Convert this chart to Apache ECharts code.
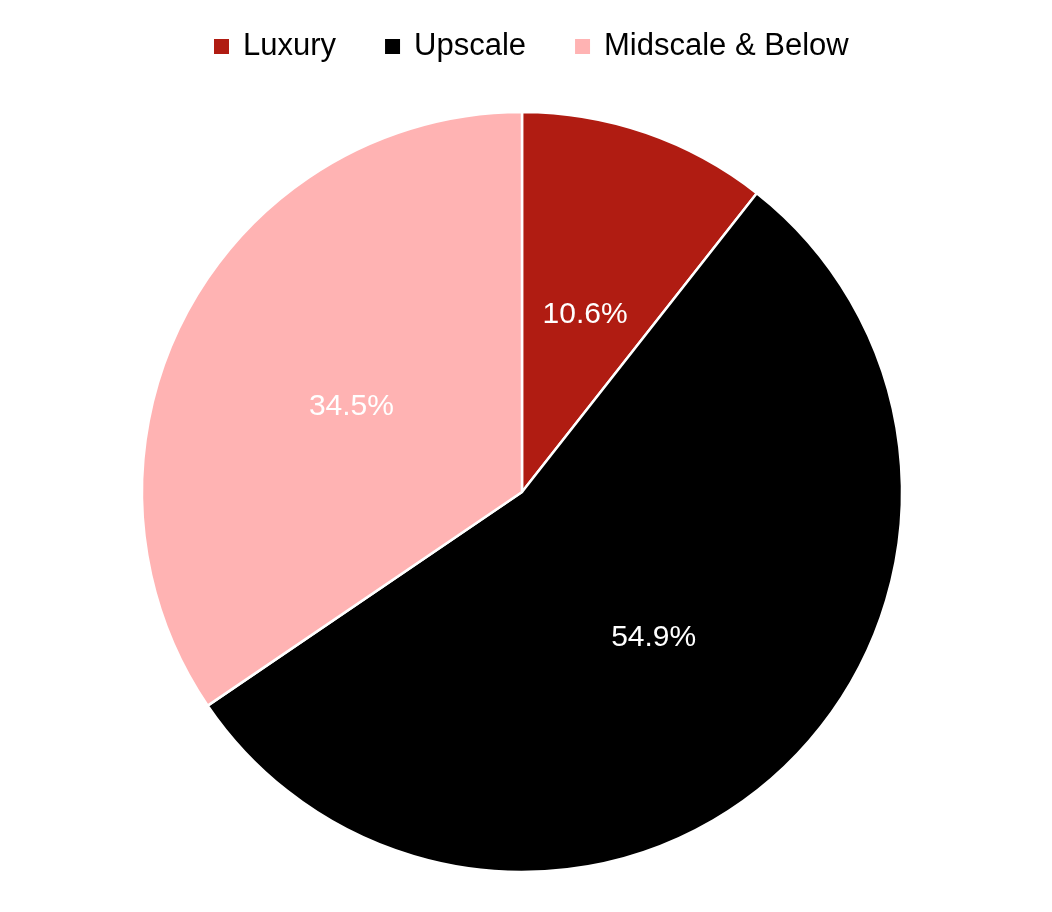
<!DOCTYPE html>
<html><head><meta charset="utf-8">
<script src="https://cdn.jsdelivr.net/npm/echarts@6/dist/echarts.min.js"></script>
<style>html,body{margin:0;padding:0;background:#fff}#c{width:1052px;height:912px}</style>
</head><body><div id="c"></div>
<script>
const categories = ['Luxury', 'Upscale', 'Midscale & Below'];
const values = [10.6, 54.9, 34.5];
const colors = ['#B01C12', '#000000', '#FFB3B3'];
const labelColors = ['#FFFFFF', '#FFFFFF', '#FFFFFF'];

const chart = echarts.init(document.getElementById('c'));
chart.setOption({
  animation: false,
  color: colors,
  legend: {
    top: 26, left: 207,
    itemWidth: 17, itemHeight: 17, itemGap: 47,
    icon: 'rect',
    textStyle: { fontSize: 31, color: '#000', fontFamily: 'Liberation Sans', padding: [0, 0, 0, 8] },
    data: categories
  },
  series: [{
    type: 'pie',
    center: [522, 492],
    radius: [0, 380],
    startAngle: 90,
    clockwise: true,
    itemStyle: { borderColor: '#fff', borderWidth: 2.5 },
    label: {
      show: true, position: 'inside',
      fontSize: 30, fontFamily: 'Liberation Sans',
      offset: [0, 5],
      formatter: p => p.value.toFixed(1) + '%'
    },
    emphasis: { disabled: true },
    data: categories.map((n, i) => ({ name: n, value: values[i], label: { color: labelColors[i] } }))
  }]
});
</script></body></html>
